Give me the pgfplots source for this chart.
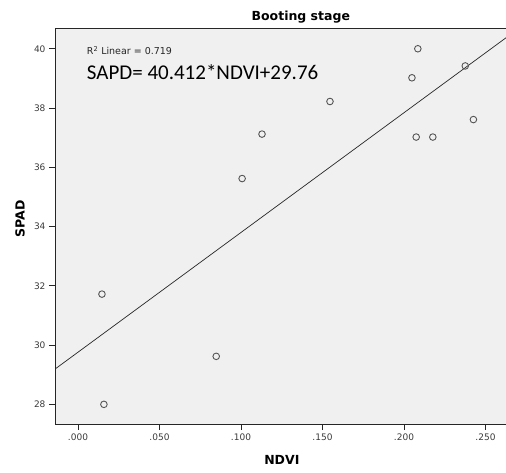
\documentclass[border=0pt]{standalone}
\usepackage{pgfplots}
\pgfplotsset{compat=1.18}
\usepackage{fontspec}
\setmainfont{DejaVu Sans}
\newfontfamily\calfont{Carlito}
\definecolor{plotbg}{HTML}{F0F0F0}
\definecolor{tickgray}{HTML}{3A3A3A}
\definecolor{markgray}{HTML}{555555}

% booting stage: NDVI vs SPAD
\pgfplotstableread{
ndvi   spad
0.0147 31.72
0.0159 28.00
0.0848 29.62
0.1007 35.62
0.1129 37.12
0.1546 38.22
0.2049 39.02
0.2075 37.02
0.2085 40.00
0.2177 37.02
0.2376 39.42
0.2426 37.61
}\booting

\begin{document}
\begin{tikzpicture}[x=1pt,y=1pt]
\useasboundingbox (0,0) rectangle (506,472);
\begin{axis}[
  at={(55pt,48pt)}, anchor=south west,
  scale only axis, width=451pt, height=396pt,
  xmin=-0.01411, xmax=0.2626, ymin=27.337, ymax=40.70,
  axis background/.style={fill=plotbg},
  axis line style={draw=black!85, line width=0.9pt},
  tick align=outside, xtick pos=bottom, ytick pos=left,
  major tick length=6pt, tick style={black!85, line width=0.8pt},
  xtick={0,0.05,0.1,0.15,0.2,0.25},
  xticklabels={.000,.050,.100,.150,.200,.250},
  ytick={28,30,...,40},
  ticklabel style={font=\fontsize{9}{10}\selectfont, text=tickgray},
  /pgf/number format/assume math mode=true,
  title={Booting stage},
  every axis title/.style={font=\bfseries\fontsize{12.5}{14}\selectfont, at={(0.545,1.0278)}, anchor=center},
  xlabel={NDVI},
  xlabel style={font=\bfseries\fontsize{12.5}{14}\selectfont, at={(0.503,-0.0909)}, anchor=center},
  ylabel={SPAD},
  ylabel style={font=\bfseries\fontsize{12.5}{14}\selectfont, at={(-0.0776,0.518)}, anchor=center},
]
\addplot[only marks, mark=o, mark size=3.3pt, mark options={draw=markgray, line width=0.9pt}]
  table[x=ndvi, y=spad] {\booting};
\addplot[black!85, line width=0.7pt] coordinates {(-0.01411,29.19) (0.2626,40.37)};
\node[anchor=base west, font=\fontsize{9.5}{11}\selectfont, text=black!85, inner sep=0pt]
  at (rel axis cs:0.0703,0.932) {R\textsuperscript{2} Linear = 0.719};
\node[anchor=base west, font=\calfont\fontsize{21}{24}\selectfont, inner sep=0pt]
  at (rel axis cs:0.0703,0.870) {SAPD= 40.412*NDVI+29.76};
\end{axis}
\end{tikzpicture}
\end{document}
